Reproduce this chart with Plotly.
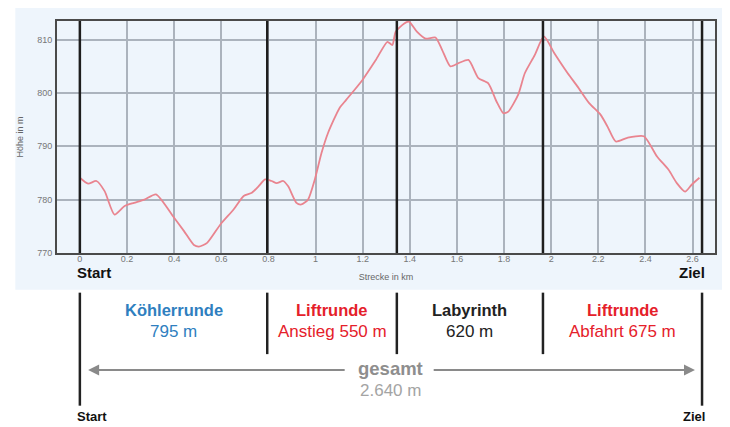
import plotly.graph_objects as go

# Elevation profile (km, m)
distance_km = [0.0, 0.035, 0.07, 0.105, 0.147, 0.19, 0.23, 0.274, 0.323, 0.4, 0.442, 0.484, 0.505,
               0.54, 0.597, 0.653, 0.695, 0.73, 0.758, 0.786, 0.814, 0.835, 0.863, 0.884, 0.919,
               0.94, 0.968, 0.997, 1.025, 1.053, 1.102, 1.13, 1.2, 1.256, 1.305, 1.326, 1.34,
               1.375, 1.396, 1.43, 1.467, 1.509, 1.537, 1.572, 1.607, 1.649, 1.691, 1.733, 1.768,
               1.797, 1.818, 1.86, 1.888, 1.93, 1.969, 2.014, 2.07, 2.112, 2.161, 2.21, 2.239,
               2.274, 2.323, 2.393, 2.449, 2.498, 2.533, 2.568, 2.596, 2.629]
elevation_m = [784.1, 783.0, 783.5, 781.6, 777.2, 778.8, 779.4, 780.0, 781.0, 776.6, 774.1, 771.5, 771.2,
               771.9, 775.4, 778.2, 780.7, 781.3, 782.5, 783.8, 783.5, 783.1, 783.5, 782.5, 779.4,
               779.1, 780.0, 783.8, 788.7, 792.5, 797.2, 798.7, 802.5, 806.2, 809.6, 809.0, 811.5,
               813.0, 813.4, 811.5, 810.2, 810.4, 808.1, 805.0, 805.6, 806.2, 802.8, 801.8, 798.4,
               796.2, 796.5, 799.7, 803.7, 807.1, 810.6, 807.4, 803.7, 801.2, 798.1, 795.9, 793.7,
               790.9, 791.6, 791.9, 788.1, 785.6, 783.1, 781.5, 782.8, 784.1]

# Section boundaries (km)
boundaries_km = [0.0, 0.795, 1.345, 1.965, 2.64]
section_titles = ["Köhlerrunde", "Liftrunde", "Labyrinth", "Liftrunde"]
section_lengths = ["795 m", "Anstieg 550 m", "620 m", "Abfahrt 675 m"]
section_colors = ["#2f7fbf", "#e5202a", "#222222", "#e5202a"]
total_label = "gesamt"
total_length = "2.640 m"

x_ticks = [0, 0.2, 0.4, 0.6, 0.8, 1, 1.2, 1.4, 1.6, 1.8, 2, 2.2, 2.4, 2.6]
y_ticks = [770, 780, 790, 800, 810]

# The page body has an 8px default margin, so the figure is drawn 8px in.
OFF = 8
W, H = 730 - OFF, 427 - OFF
ML, MR, MT, MB = 52 - OFF, 15, 19 - OFF, 174
PW, PH = W - ML - MR, H - MT - MB
FONT = "Liberation Sans, Arial"


def py(p):  # window pixel row -> paper y
    return (H - MB - (p - OFF)) / PH


def pxp(p):  # window pixel column -> paper x
    return (p - OFF - ML) / PW


fig = go.Figure()
fig.add_trace(go.Scatter(x=distance_km, y=elevation_m, mode="lines",
                         line=dict(color="#e9848f", width=1.8, shape="spline", smoothing=0.6),
                         hoverinfo="skip", showlegend=False))

shapes = []
# outer light panel
shapes.append(dict(type="rect", xref="paper", yref="paper", x0=pxp(10), x1=pxp(725),
                   y0=py(290), y1=py(3), fillcolor="#eef5fc", line=dict(width=0), layer="below"))
# section lines in plot
for b in boundaries_km:
    shapes.append(dict(type="line", xref="x", yref="paper", x0=b, x1=b, y0=0, y1=1,
                       line=dict(color="#1e1e1e", width=2.5)))
# section lines below
for i, b in enumerate(boundaries_km):
    end = i == 0 or i == len(boundaries_km) - 1
    shapes.append(dict(type="line", xref="x", yref="paper", x0=b, x1=b,
                       y0=py(407 if end else 355), y1=py(293),
                       line=dict(color="#222222", width=2.5)))

ann = []
ann.append(dict(x=boundaries_km[0], y=py(273), xref="x", yref="paper", text="<b>Start</b>",
                showarrow=False, xanchor="left", yanchor="middle", xshift=-5,
                font=dict(size=15, color="#111", family=FONT)))
ann.append(dict(x=boundaries_km[-1], y=py(273), xref="x", yref="paper", text="<b>Ziel</b>",
                showarrow=False, xanchor="right", yanchor="middle", xshift=5,
                font=dict(size=15, color="#111", family=FONT)))
ann.append(dict(x=boundaries_km[0], y=py(418), xref="x", yref="paper", text="<b>Start</b>",
                showarrow=False, xanchor="left", yanchor="middle", xshift=-5,
                font=dict(size=13, color="#111", family=FONT)))
ann.append(dict(x=boundaries_km[-1], y=py(418), xref="x", yref="paper", text="<b>Ziel</b>",
                showarrow=False, xanchor="right", yanchor="middle", xshift=5,
                font=dict(size=13, color="#111", family=FONT)))

for i in range(4):
    mid = (boundaries_km[i] + boundaries_km[i + 1]) / 2
    ann.append(dict(x=mid, y=py(310), xref="x", yref="paper", text="<b>" + section_titles[i] + "</b>",
                    showarrow=False, xanchor="center", yanchor="middle",
                    font=dict(size=16.5, color=section_colors[i], family=FONT)))
    ann.append(dict(x=mid, y=py(332), xref="x", yref="paper", text=section_lengths[i],
                    showarrow=False, xanchor="center", yanchor="middle",
                    font=dict(size=17, color=section_colors[i], family=FONT)))

total_mid = (boundaries_km[0] + boundaries_km[-1]) / 2
yarrow = py(371)
ann.append(dict(x=boundaries_km[0] + 0.035, y=yarrow, xref="x", yref="paper", text="",
                showarrow=True, ax=total_mid - 0.19, ay=0, axref="x", ayref="pixel",
                arrowhead=2, arrowsize=1.1, arrowwidth=2, arrowcolor="#8a8a8a"))
ann.append(dict(x=boundaries_km[-1] - 0.03, y=yarrow, xref="x", yref="paper", text="",
                showarrow=True, ax=total_mid + 0.175, ay=0, axref="x", ayref="pixel",
                arrowhead=2, arrowsize=1.1, arrowwidth=2, arrowcolor="#8a8a8a"))
ann.append(dict(x=total_mid, y=py(369), xref="x", yref="paper", text="<b>" + total_label + "</b>",
                showarrow=False, xanchor="center", yanchor="middle",
                font=dict(size=18.5, color="#8e8e8e", family=FONT)))
ann.append(dict(x=total_mid, y=py(392), xref="x", yref="paper", text=total_length,
                showarrow=False, xanchor="center", yanchor="middle",
                font=dict(size=17, color="#a4a4a4", family=FONT)))

fig.update_layout(
    width=W, height=H, margin=dict(l=ML, r=MR, t=MT, b=MB, pad=0),
    paper_bgcolor="white", plot_bgcolor="#eef5fc",
    shapes=shapes, annotations=ann, showlegend=False,
    font=dict(family=FONT, size=9, color="#666"),
)
fig.update_xaxes(range=[-0.097, 2.695], tickvals=x_ticks, ticktext=[str(t) for t in x_ticks],
                 showgrid=True, gridcolor="#abb3bd", gridwidth=1.5, zeroline=False,
                 showline=True, linecolor="#4a4a4a", linewidth=2, mirror=True, ticks="",
                 tickfont=dict(size=9, color="#777"), ticklabelstandoff=-4,
                 title=dict(text="Strecke in km", font=dict(size=9, color="#666"), standoff=11))
fig.update_yaxes(range=[770, 813.5], tickvals=y_ticks, showgrid=True, gridcolor="#abb3bd",
                 gridwidth=1.5, zeroline=False, showline=True, linecolor="#4a4a4a", linewidth=2,
                 mirror=True, ticks="", tickfont=dict(size=9, color="#777"), ticklabelstandoff=1,
                 title=dict(text="Höhe in m", font=dict(size=9, color="#666"), standoff=12))

fig.write_html("out.html")
